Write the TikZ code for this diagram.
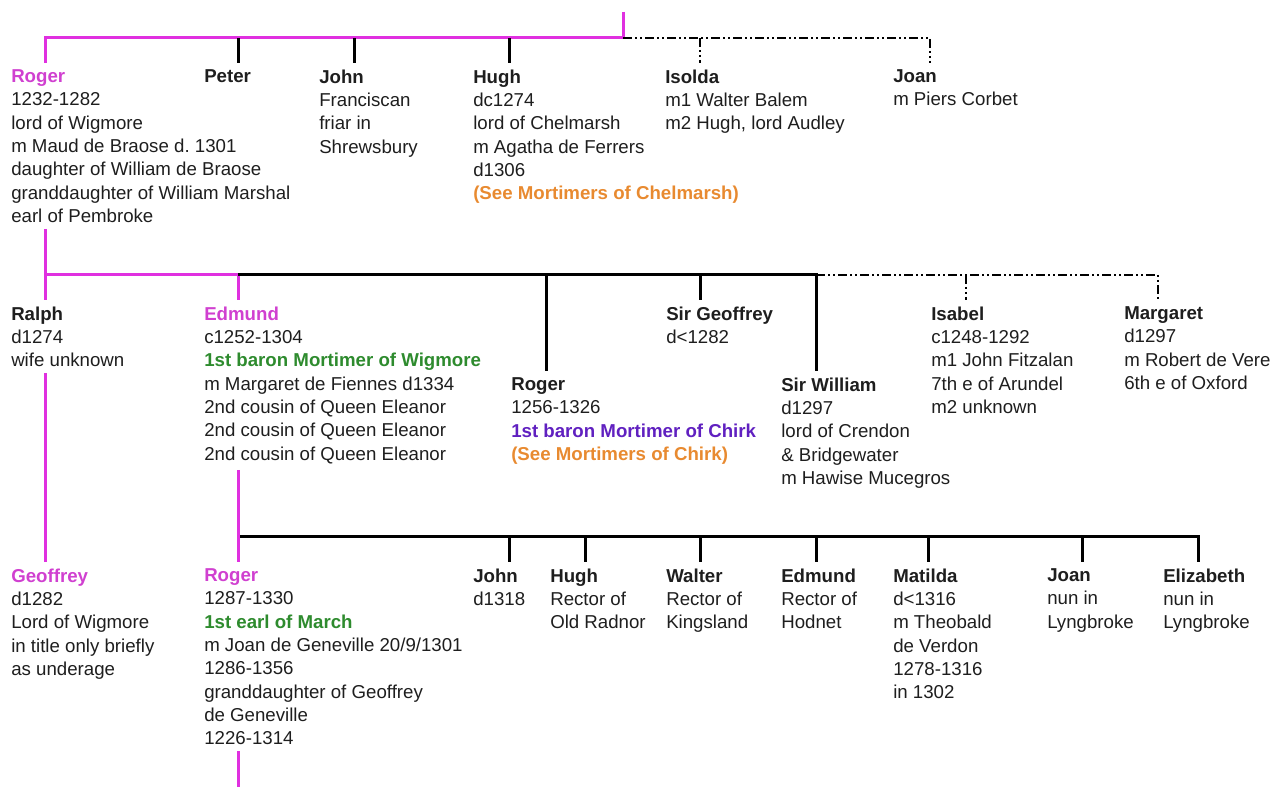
\documentclass[tikz,border=0pt]{standalone}
\usepackage{fontspec}
\setmainfont{Liberation Sans}
\definecolor{mag}{HTML}{E030E0}
\definecolor{magtext}{HTML}{D040D0}
\definecolor{grn}{HTML}{2E8B2E}
\definecolor{org}{HTML}{E88A30}
\definecolor{prp}{HTML}{6020C0}
\definecolor{txt}{HTML}{1E1E1E}
\newcommand\nm[1]{\textbf{#1}}
\newcommand\mg[1]{\textcolor{magtext}{\textbf{#1}}}
\newcommand\gr[1]{\textcolor{grn}{\textbf{#1}}}
\newcommand\og[1]{\textcolor{org}{\textbf{#1}}}
\newcommand\pp[1]{\textcolor{prp}{\textbf{#1}}}
\begin{document}
\begin{tikzpicture}[x=0.75pt,y=-0.75pt,
  person/.style={anchor=north west, align=left, inner xsep=0pt, inner ysep=4.5pt,
    font=\fontsize{14}{17.5}\selectfont, text=txt},
  bline/.style={line width=2.25pt, draw=black},
  mline/.style={line width=2.25pt, draw=mag},
  dline/.style={line width=1.9pt, draw=black,
    dash pattern=on 6.75pt off 2.25pt on 1.5pt off 2.25pt on 1.5pt off 2.25pt}]
\useasboundingbox (0,0) rectangle (1274,787);

% ---------- generation 1 ----------
\node[person] (roger1) at (11,63.4) {\mg{Roger}\\1232-1282\\lord of Wigmore\\m Maud de Braose d.\ 1301\\daughter of William de Braose\\granddaughter of William Marshal\\earl of Pembroke};
\node[person] (peter) at (204,63.4) {\nm{Peter}};
\node[person] (john1) at (319,63.4) {\nm{John}\\Franciscan\\friar in\\Shrewsbury};
\node[person] (hugh1) at (473,63.4) {\nm{Hugh}\\dc1274\\lord of Chelmarsh\\m Agatha de Ferrers\\d1306\\\og{(See Mortimers of Chelmarsh)}};
\node[person] (isolda) at (665,63.4) {\nm{Isolda}\\m1 Walter Balem\\m2 Hugh, lord Audley};
\node[person] (joan1) at (893,63.4) {\nm{Joan}\\m Piers Corbet};

\coordinate (top) at (623,12);
\coordinate (b1) at (623,38);
\coordinate (b1roger) at (45,38);
\coordinate (b1peter) at (238,38);
\coordinate (b1john) at (354,38);
\coordinate (b1hugh) at (509,38);
\coordinate (b1isolda) at (700,38);
\coordinate (b1joan) at (930,38);

\draw[mline] (top) -- (b1) -- (b1roger) -- (b1roger |- roger1.north);
\draw[bline] (b1peter) -- (b1peter |- peter.north);
\draw[bline] (b1john) -- (b1john |- john1.north);
\draw[bline] (b1hugh) -- (b1hugh |- hugh1.north);
\draw[dline] (b1) -- (b1joan) -- (b1joan |- joan1.north);
\draw[dline] (b1isolda) -- (b1isolda |- isolda.north);

% ---------- generation 2 ----------
\node[person] (ralph) at (11,300.4) {\nm{Ralph}\\d1274\\wife unknown};
\node[person] (edmund1) at (204,300.4) {\mg{Edmund}\\c1252-1304\\\gr{1st baron Mortimer of Wigmore}\\m Margaret de Fiennes d1334\\2nd cousin of Queen Eleanor\\2nd cousin of Queen Eleanor\\2nd cousin of Queen Eleanor};
\node[person] (geoffsir) at (666,300.4) {\nm{Sir Geoffrey}\\d<1282};
\node[person] (isabel) at (931,300.4) {\nm{Isabel}\\c1248-1292\\m1 John Fitzalan\\7th e of Arundel\\m2 unknown};
\node[person] (margaret) at (1124,300.4) {\nm{Margaret}\\d1297\\m Robert de Vere\\6th e of Oxford};
\node[person] (roger3) at (511,371.4) {\nm{Roger}\\1256-1326\\\pp{1st baron Mortimer of Chirk}\\\og{(See Mortimers of Chirk)}};
\node[person] (william) at (781,371.4) {\nm{Sir William}\\d1297\\lord of Crendon\\\& Bridgewater\\m Hawise Mucegros};

\coordinate (b2ralph) at (45,275);
\coordinate (b2edmund) at (238,275);
\coordinate (b2roger) at (546,275);
\coordinate (b2geoff) at (700,275);
\coordinate (b2william) at (816,275);
\coordinate (b2isabel) at (966,275);
\coordinate (b2margaret) at (1158,275);

\draw[mline] (roger1.south -| b2ralph) -- (b2ralph) -- (b2edmund) -- (b2edmund |- edmund1.north);
\draw[mline] (b2ralph) -- (b2ralph |- ralph.north);
\draw[bline] (b2edmund) -- (b2william) -- (b2william |- william.north);
\draw[bline] (b2roger) -- (b2roger |- roger3.north);
\draw[bline] (b2geoff) -- (b2geoff |- geoffsir.north);
\draw[dline] (b2william) -- (b2margaret) -- (b2margaret |- margaret.north);
\draw[dline] (b2isabel) -- (b2isabel |- isabel.north);

% ---------- generation 3 ----------
\node[person] (geoffrey) at (11,562.4) {\mg{Geoffrey}\\d1282\\Lord of Wigmore\\in title only briefly\\as underage};
\node[person] (roger2) at (204,562.4) {\mg{Roger}\\1287-1330\\\gr{1st earl of March}\\m Joan de Geneville 20/9/1301\\1286-1356\\granddaughter of Geoffrey\\de Geneville\\1226-1314};
\node[person] (john2) at (473,562.4) {\nm{John}\\d1318};
\node[person] (hugh2) at (550,562.4) {\nm{Hugh}\\Rector of\\Old Radnor};
\node[person] (walter) at (666,562.4) {\nm{Walter}\\Rector of\\Kingsland};
\node[person] (edmund2) at (781,562.4) {\nm{Edmund}\\Rector of\\Hodnet};
\node[person] (matilda) at (893,562.4) {\nm{Matilda}\\d<1316\\m Theobald\\de Verdon\\1278-1316\\in 1302};
\node[person] (joan2) at (1047,562.4) {\nm{Joan}\\nun in\\Lyngbroke};
\node[person] (elizabeth) at (1163,562.4) {\nm{Elizabeth}\\nun in\\Lyngbroke};

\coordinate (b3roger) at (238,536);
\coordinate (b3john) at (509,536);
\coordinate (b3hugh) at (585,536);
\coordinate (b3walter) at (700,536);
\coordinate (b3edmund) at (816,536);
\coordinate (b3matilda) at (928,536);
\coordinate (b3joan) at (1082,536);
\coordinate (b3eliz) at (1198,536);
\coordinate (bottom) at (238,787);

\draw[mline] (ralph.south -| b2ralph) -- (b2ralph |- geoffrey.north);
\draw[bline] (b3roger) -- (b3eliz) -- (b3eliz |- elizabeth.north);
\draw[mline] (edmund1.south -| b3roger) -- (b3roger |- roger2.north);
\draw[bline] (b3john) -- (b3john |- john2.north);
\draw[bline] (b3hugh) -- (b3hugh |- hugh2.north);
\draw[bline] (b3walter) -- (b3walter |- walter.north);
\draw[bline] (b3edmund) -- (b3edmund |- edmund2.north);
\draw[bline] (b3matilda) -- (b3matilda |- matilda.north);
\draw[bline] (b3joan) -- (b3joan |- joan2.north);
\draw[mline] (roger2.south -| b3roger) -- (bottom);
\end{tikzpicture}
\end{document}
